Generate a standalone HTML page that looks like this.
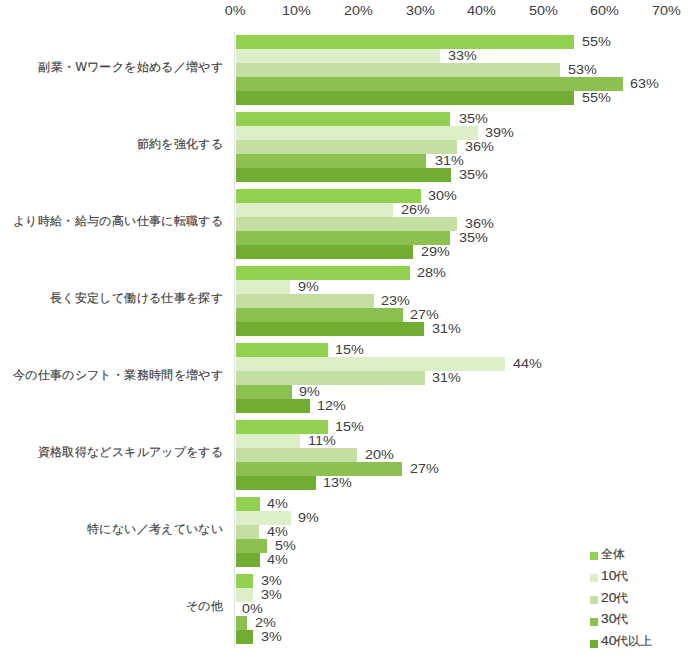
<!DOCTYPE html>
<html lang="ja"><head><meta charset="utf-8">
<style>
html,body{margin:0;padding:0;background:#fff;}
body{width:688px;height:656px;position:relative;overflow:hidden;font-family:"Liberation Sans",sans-serif;color:#404040;}
.tk{position:absolute;top:3px;width:60px;text-align:center;font-size:12.5px;line-height:16px;}
.tk span{display:inline-block;transform:scaleX(1.15);}
.ax{position:absolute;left:234px;top:32px;width:1px;height:616px;background:#e4e4e4;}
.bar{position:absolute;left:236px;height:14px;}
.vl{position:absolute;font-size:12.5px;line-height:14px;height:14px;white-space:nowrap;transform:scaleX(1.15);transform-origin:0 0;}
.cat{position:absolute;left:0;width:223px;text-align:right;font-size:12px;line-height:16px;white-space:nowrap;letter-spacing:0.35px;-webkit-text-stroke:0.15px #404040;}
.ltx .d{display:inline-block;transform:scaleX(1.15);transform-origin:0 0;margin-right:1.5px;}
.lsq{position:absolute;left:589.5px;width:8.5px;height:8px;}
.ltx{position:absolute;left:601px;font-size:12px;line-height:16px;white-space:nowrap;-webkit-text-stroke:0.15px #404040;}
</style></head><body>
<div class="tk" style="left:205.3px"><span>0%</span></div>
<div class="tk" style="left:266.9px"><span>10%</span></div>
<div class="tk" style="left:328.5px"><span>20%</span></div>
<div class="tk" style="left:390.1px"><span>30%</span></div>
<div class="tk" style="left:451.7px"><span>40%</span></div>
<div class="tk" style="left:513.3px"><span>50%</span></div>
<div class="tk" style="left:574.9px"><span>60%</span></div>
<div class="tk" style="left:636.5px"><span>70%</span></div>
<div class="ax"></div>
<div class="cat" style="top:59px">副業・Wワークを始める／増やす</div>
<div class="bar" style="top:35px;width:338px;background:#92d050"></div>
<div class="vl" style="top:35px;left:581.7px">55%</div>
<div class="bar" style="top:49px;width:204px;background:#dcefc8"></div>
<div class="vl" style="top:49px;left:448.4px">33%</div>
<div class="bar" style="top:63px;width:324px;background:#c4dfa2"></div>
<div class="vl" style="top:63px;left:567.7px">53%</div>
<div class="bar" style="top:77px;width:387px;background:#8cc152"></div>
<div class="vl" style="top:77px;left:630.0px">63%</div>
<div class="bar" style="top:91px;width:338px;background:#70ad32"></div>
<div class="vl" style="top:91px;left:581.7px">55%</div>
<div class="cat" style="top:136px">節約を強化する</div>
<div class="bar" style="top:112px;width:214px;background:#92d050"></div>
<div class="vl" style="top:112px;left:458.5px">35%</div>
<div class="bar" style="top:126px;width:242px;background:#dcefc8"></div>
<div class="vl" style="top:126px;left:485.4px">39%</div>
<div class="bar" style="top:140px;width:221px;background:#c4dfa2"></div>
<div class="vl" style="top:140px;left:464.7px">36%</div>
<div class="bar" style="top:154px;width:190px;background:#8cc152"></div>
<div class="vl" style="top:154px;left:434.5px">31%</div>
<div class="bar" style="top:168px;width:215px;background:#70ad32"></div>
<div class="vl" style="top:168px;left:458.5px">35%</div>
<div class="cat" style="top:213px">より時給・給与の高い仕事に転職する</div>
<div class="bar" style="top:189px;width:185px;background:#92d050"></div>
<div class="vl" style="top:189px;left:428.3px">30%</div>
<div class="bar" style="top:203px;width:157px;background:#dcefc8"></div>
<div class="vl" style="top:203px;left:400.9px">26%</div>
<div class="bar" style="top:217px;width:221px;background:#c4dfa2"></div>
<div class="vl" style="top:217px;left:464.8px">36%</div>
<div class="bar" style="top:231px;width:214px;background:#8cc152"></div>
<div class="vl" style="top:231px;left:458.6px">35%</div>
<div class="bar" style="top:245px;width:177px;background:#70ad32"></div>
<div class="vl" style="top:245px;left:420.7px">29%</div>
<div class="cat" style="top:290px">長く安定して働ける仕事を探す</div>
<div class="bar" style="top:266px;width:174px;background:#92d050"></div>
<div class="vl" style="top:266px;left:416.5px">28%</div>
<div class="bar" style="top:280px;width:54px;background:#dcefc8"></div>
<div class="vl" style="top:280px;left:297.9px">9%</div>
<div class="bar" style="top:294px;width:138px;background:#c4dfa2"></div>
<div class="vl" style="top:294px;left:381.2px">23%</div>
<div class="bar" style="top:308px;width:167px;background:#8cc152"></div>
<div class="vl" style="top:308px;left:409.5px">27%</div>
<div class="bar" style="top:322px;width:188px;background:#70ad32"></div>
<div class="vl" style="top:322px;left:431.8px">31%</div>
<div class="cat" style="top:367px">今の仕事のシフト・業務時間を増やす</div>
<div class="bar" style="top:343px;width:92px;background:#92d050"></div>
<div class="vl" style="top:343px;left:334.7px">15%</div>
<div class="bar" style="top:357px;width:269px;background:#dcefc8"></div>
<div class="vl" style="top:357px;left:513.4px">44%</div>
<div class="bar" style="top:371px;width:189px;background:#c4dfa2"></div>
<div class="vl" style="top:371px;left:432.3px">31%</div>
<div class="bar" style="top:385px;width:56px;background:#8cc152"></div>
<div class="vl" style="top:385px;left:299.2px">9%</div>
<div class="bar" style="top:399px;width:74px;background:#70ad32"></div>
<div class="vl" style="top:399px;left:317.3px">12%</div>
<div class="cat" style="top:444px">資格取得などスキルアップをする</div>
<div class="bar" style="top:420px;width:92px;background:#92d050"></div>
<div class="vl" style="top:420px;left:334.6px">15%</div>
<div class="bar" style="top:434px;width:64px;background:#dcefc8"></div>
<div class="vl" style="top:434px;left:307.6px">11%</div>
<div class="bar" style="top:448px;width:121px;background:#c4dfa2"></div>
<div class="vl" style="top:448px;left:364.7px">20%</div>
<div class="bar" style="top:462px;width:166px;background:#8cc152"></div>
<div class="vl" style="top:462px;left:410.0px">27%</div>
<div class="bar" style="top:476px;width:80px;background:#70ad32"></div>
<div class="vl" style="top:476px;left:322.9px">13%</div>
<div class="cat" style="top:521px">特にない／考えていない</div>
<div class="bar" style="top:497px;width:24px;background:#92d050"></div>
<div class="vl" style="top:497px;left:266.9px">4%</div>
<div class="bar" style="top:511px;width:55px;background:#dcefc8"></div>
<div class="vl" style="top:511px;left:297.9px">9%</div>
<div class="bar" style="top:525px;width:23px;background:#c4dfa2"></div>
<div class="vl" style="top:525px;left:266.9px">4%</div>
<div class="bar" style="top:539px;width:31px;background:#8cc152"></div>
<div class="vl" style="top:539px;left:275.3px">5%</div>
<div class="bar" style="top:553px;width:24px;background:#70ad32"></div>
<div class="vl" style="top:553px;left:266.9px">4%</div>
<div class="cat" style="top:598px">その他</div>
<div class="bar" style="top:574px;width:17px;background:#92d050"></div>
<div class="vl" style="top:574px;left:261.0px">3%</div>
<div class="bar" style="top:588px;width:17px;background:#dcefc8"></div>
<div class="vl" style="top:588px;left:261.0px">3%</div>
<div class="vl" style="top:602px;left:242.3px">0%</div>
<div class="bar" style="top:616px;width:11px;background:#8cc152"></div>
<div class="vl" style="top:616px;left:254.9px">2%</div>
<div class="bar" style="top:630px;width:17px;background:#70ad32"></div>
<div class="vl" style="top:630px;left:261.0px">3%</div>
<div class="lsq" style="top:552.2px;background:#92d050"></div>
<div class="ltx" style="top:545.7px">全体</div>
<div class="lsq" style="top:574.1px;background:#dcefc8"></div>
<div class="ltx" style="top:567.6px"><span class="d">10</span>代</div>
<div class="lsq" style="top:596.0px;background:#c4dfa2"></div>
<div class="ltx" style="top:589.5px"><span class="d">20</span>代</div>
<div class="lsq" style="top:617.9px;background:#8cc152"></div>
<div class="ltx" style="top:611.4px"><span class="d">30</span>代</div>
<div class="lsq" style="top:639.8px;background:#70ad32"></div>
<div class="ltx" style="top:633.3px"><span class="d">40</span>代以上</div>
</body></html>
